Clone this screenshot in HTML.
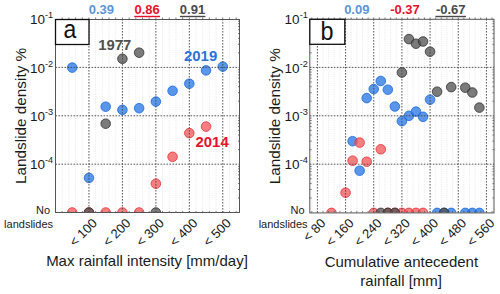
<!DOCTYPE html>
<html><head><meta charset="utf-8"><style>
html,body{margin:0;padding:0;background:#fff;}
body{width:500px;height:294px;overflow:hidden;}
svg{display:block;}
text{font-family:"Liberation Sans",sans-serif;}
</style></head><body>
<svg width="500" height="294" viewBox="0 0 500 294">
<rect width="500" height="294" fill="#fff"/>
<defs><clipPath id="ca"><rect x="55.5" y="19.0" width="184.0" height="193.6"/></clipPath></defs>
<line x1="62.19" y1="19.0" x2="62.19" y2="212.6" stroke="#e2e2e2" stroke-width="0.8" stroke-dasharray="1 1.2"/>
<line x1="68.88" y1="19.0" x2="68.88" y2="212.6" stroke="#e2e2e2" stroke-width="0.8" stroke-dasharray="1 1.2"/>
<line x1="75.57" y1="19.0" x2="75.57" y2="212.6" stroke="#e2e2e2" stroke-width="0.8" stroke-dasharray="1 1.2"/>
<line x1="82.26" y1="19.0" x2="82.26" y2="212.6" stroke="#e2e2e2" stroke-width="0.8" stroke-dasharray="1 1.2"/>
<line x1="95.65" y1="19.0" x2="95.65" y2="212.6" stroke="#e2e2e2" stroke-width="0.8" stroke-dasharray="1 1.2"/>
<line x1="102.34" y1="19.0" x2="102.34" y2="212.6" stroke="#e2e2e2" stroke-width="0.8" stroke-dasharray="1 1.2"/>
<line x1="109.03" y1="19.0" x2="109.03" y2="212.6" stroke="#e2e2e2" stroke-width="0.8" stroke-dasharray="1 1.2"/>
<line x1="115.72" y1="19.0" x2="115.72" y2="212.6" stroke="#e2e2e2" stroke-width="0.8" stroke-dasharray="1 1.2"/>
<line x1="129.10" y1="19.0" x2="129.10" y2="212.6" stroke="#e2e2e2" stroke-width="0.8" stroke-dasharray="1 1.2"/>
<line x1="135.79" y1="19.0" x2="135.79" y2="212.6" stroke="#e2e2e2" stroke-width="0.8" stroke-dasharray="1 1.2"/>
<line x1="142.48" y1="19.0" x2="142.48" y2="212.6" stroke="#e2e2e2" stroke-width="0.8" stroke-dasharray="1 1.2"/>
<line x1="149.17" y1="19.0" x2="149.17" y2="212.6" stroke="#e2e2e2" stroke-width="0.8" stroke-dasharray="1 1.2"/>
<line x1="162.55" y1="19.0" x2="162.55" y2="212.6" stroke="#e2e2e2" stroke-width="0.8" stroke-dasharray="1 1.2"/>
<line x1="169.25" y1="19.0" x2="169.25" y2="212.6" stroke="#e2e2e2" stroke-width="0.8" stroke-dasharray="1 1.2"/>
<line x1="175.94" y1="19.0" x2="175.94" y2="212.6" stroke="#e2e2e2" stroke-width="0.8" stroke-dasharray="1 1.2"/>
<line x1="182.63" y1="19.0" x2="182.63" y2="212.6" stroke="#e2e2e2" stroke-width="0.8" stroke-dasharray="1 1.2"/>
<line x1="196.01" y1="19.0" x2="196.01" y2="212.6" stroke="#e2e2e2" stroke-width="0.8" stroke-dasharray="1 1.2"/>
<line x1="202.70" y1="19.0" x2="202.70" y2="212.6" stroke="#e2e2e2" stroke-width="0.8" stroke-dasharray="1 1.2"/>
<line x1="209.39" y1="19.0" x2="209.39" y2="212.6" stroke="#e2e2e2" stroke-width="0.8" stroke-dasharray="1 1.2"/>
<line x1="216.08" y1="19.0" x2="216.08" y2="212.6" stroke="#e2e2e2" stroke-width="0.8" stroke-dasharray="1 1.2"/>
<line x1="229.46" y1="19.0" x2="229.46" y2="212.6" stroke="#e2e2e2" stroke-width="0.8" stroke-dasharray="1 1.2"/>
<line x1="236.15" y1="19.0" x2="236.15" y2="212.6" stroke="#e2e2e2" stroke-width="0.8" stroke-dasharray="1 1.2"/>
<g clip-path="url(#ca)">
<circle cx="72.23" cy="67.60" r="4.8" fill="#2373e2" fill-opacity="0.75" stroke="#1a6ae0" stroke-opacity="0.8" stroke-width="1"/>
<circle cx="88.95" cy="177.90" r="4.8" fill="#2373e2" fill-opacity="0.75" stroke="#1a6ae0" stroke-opacity="0.8" stroke-width="1"/>
<circle cx="105.68" cy="106.70" r="4.8" fill="#2373e2" fill-opacity="0.75" stroke="#1a6ae0" stroke-opacity="0.8" stroke-width="1"/>
<circle cx="122.41" cy="109.90" r="4.8" fill="#2373e2" fill-opacity="0.75" stroke="#1a6ae0" stroke-opacity="0.8" stroke-width="1"/>
<circle cx="139.14" cy="108.20" r="4.8" fill="#2373e2" fill-opacity="0.75" stroke="#1a6ae0" stroke-opacity="0.8" stroke-width="1"/>
<circle cx="155.86" cy="101.60" r="4.8" fill="#2373e2" fill-opacity="0.75" stroke="#1a6ae0" stroke-opacity="0.8" stroke-width="1"/>
<circle cx="172.59" cy="90.80" r="4.8" fill="#2373e2" fill-opacity="0.75" stroke="#1a6ae0" stroke-opacity="0.8" stroke-width="1"/>
<circle cx="189.32" cy="83.70" r="4.8" fill="#2373e2" fill-opacity="0.75" stroke="#1a6ae0" stroke-opacity="0.8" stroke-width="1"/>
<circle cx="206.05" cy="70.40" r="4.8" fill="#2373e2" fill-opacity="0.75" stroke="#1a6ae0" stroke-opacity="0.8" stroke-width="1"/>
<circle cx="222.77" cy="66.60" r="4.8" fill="#2373e2" fill-opacity="0.75" stroke="#1a6ae0" stroke-opacity="0.8" stroke-width="1"/>
<circle cx="72.23" cy="212.50" r="4.8" fill="#f05456" fill-opacity="0.75" stroke="#e8303a" stroke-opacity="0.8" stroke-width="1"/>
<circle cx="88.95" cy="212.50" r="4.8" fill="#f05456" fill-opacity="0.75" stroke="#e8303a" stroke-opacity="0.8" stroke-width="1"/>
<circle cx="105.68" cy="212.50" r="4.8" fill="#f05456" fill-opacity="0.75" stroke="#e8303a" stroke-opacity="0.8" stroke-width="1"/>
<circle cx="122.41" cy="212.50" r="4.8" fill="#f05456" fill-opacity="0.75" stroke="#e8303a" stroke-opacity="0.8" stroke-width="1"/>
<circle cx="139.14" cy="212.50" r="4.8" fill="#f05456" fill-opacity="0.75" stroke="#e8303a" stroke-opacity="0.8" stroke-width="1"/>
<circle cx="155.86" cy="183.70" r="4.8" fill="#f05456" fill-opacity="0.75" stroke="#e8303a" stroke-opacity="0.8" stroke-width="1"/>
<circle cx="172.59" cy="156.80" r="4.8" fill="#f05456" fill-opacity="0.75" stroke="#e8303a" stroke-opacity="0.8" stroke-width="1"/>
<circle cx="189.32" cy="133.10" r="4.8" fill="#f05456" fill-opacity="0.75" stroke="#e8303a" stroke-opacity="0.8" stroke-width="1"/>
<circle cx="206.05" cy="126.60" r="4.8" fill="#f05456" fill-opacity="0.75" stroke="#e8303a" stroke-opacity="0.8" stroke-width="1"/>
<circle cx="88.95" cy="212.50" r="4.8" fill="#4f4f4f" fill-opacity="0.75" stroke="#333333" stroke-opacity="0.8" stroke-width="1"/>
<circle cx="105.68" cy="123.70" r="4.8" fill="#4f4f4f" fill-opacity="0.75" stroke="#333333" stroke-opacity="0.8" stroke-width="1"/>
<circle cx="122.41" cy="58.80" r="4.8" fill="#4f4f4f" fill-opacity="0.75" stroke="#333333" stroke-opacity="0.8" stroke-width="1"/>
<circle cx="139.14" cy="52.70" r="4.8" fill="#4f4f4f" fill-opacity="0.75" stroke="#333333" stroke-opacity="0.8" stroke-width="1"/>
<circle cx="155.86" cy="212.50" r="4.8" fill="#4f4f4f" fill-opacity="0.75" stroke="#333333" stroke-opacity="0.8" stroke-width="1"/>
</g>
<line x1="88.95" y1="19.0" x2="88.95" y2="212.6" stroke="#444" stroke-width="0.9" stroke-dasharray="1.6 1.4"/>
<line x1="122.41" y1="19.0" x2="122.41" y2="212.6" stroke="#444" stroke-width="0.9" stroke-dasharray="1.6 1.4"/>
<line x1="155.86" y1="19.0" x2="155.86" y2="212.6" stroke="#444" stroke-width="0.9" stroke-dasharray="1.6 1.4"/>
<line x1="189.32" y1="19.0" x2="189.32" y2="212.6" stroke="#444" stroke-width="0.9" stroke-dasharray="1.6 1.4"/>
<line x1="222.77" y1="19.0" x2="222.77" y2="212.6" stroke="#444" stroke-width="0.9" stroke-dasharray="1.6 1.4"/>
<line x1="55.5" y1="67.40" x2="239.5" y2="67.40" stroke="#444" stroke-width="0.9" stroke-dasharray="1.6 1.4"/>
<line x1="55.5" y1="115.80" x2="239.5" y2="115.80" stroke="#444" stroke-width="0.9" stroke-dasharray="1.6 1.4"/>
<line x1="55.5" y1="164.20" x2="239.5" y2="164.20" stroke="#444" stroke-width="0.9" stroke-dasharray="1.6 1.4"/>
<line x1="62.19" y1="17.5" x2="62.19" y2="19.0" stroke="#555" stroke-width="0.8"/>
<line x1="62.19" y1="211.1" x2="62.19" y2="212.6" stroke="#555" stroke-width="0.8"/>
<line x1="68.88" y1="17.5" x2="68.88" y2="19.0" stroke="#555" stroke-width="0.8"/>
<line x1="68.88" y1="211.1" x2="68.88" y2="212.6" stroke="#555" stroke-width="0.8"/>
<line x1="75.57" y1="17.5" x2="75.57" y2="19.0" stroke="#555" stroke-width="0.8"/>
<line x1="75.57" y1="211.1" x2="75.57" y2="212.6" stroke="#555" stroke-width="0.8"/>
<line x1="82.26" y1="17.5" x2="82.26" y2="19.0" stroke="#555" stroke-width="0.8"/>
<line x1="82.26" y1="211.1" x2="82.26" y2="212.6" stroke="#555" stroke-width="0.8"/>
<line x1="88.95" y1="17.5" x2="88.95" y2="19.0" stroke="#555" stroke-width="0.8"/>
<line x1="88.95" y1="211.1" x2="88.95" y2="212.6" stroke="#555" stroke-width="0.8"/>
<line x1="95.65" y1="17.5" x2="95.65" y2="19.0" stroke="#555" stroke-width="0.8"/>
<line x1="95.65" y1="211.1" x2="95.65" y2="212.6" stroke="#555" stroke-width="0.8"/>
<line x1="102.34" y1="17.5" x2="102.34" y2="19.0" stroke="#555" stroke-width="0.8"/>
<line x1="102.34" y1="211.1" x2="102.34" y2="212.6" stroke="#555" stroke-width="0.8"/>
<line x1="109.03" y1="17.5" x2="109.03" y2="19.0" stroke="#555" stroke-width="0.8"/>
<line x1="109.03" y1="211.1" x2="109.03" y2="212.6" stroke="#555" stroke-width="0.8"/>
<line x1="115.72" y1="17.5" x2="115.72" y2="19.0" stroke="#555" stroke-width="0.8"/>
<line x1="115.72" y1="211.1" x2="115.72" y2="212.6" stroke="#555" stroke-width="0.8"/>
<line x1="122.41" y1="17.5" x2="122.41" y2="19.0" stroke="#555" stroke-width="0.8"/>
<line x1="122.41" y1="211.1" x2="122.41" y2="212.6" stroke="#555" stroke-width="0.8"/>
<line x1="129.10" y1="17.5" x2="129.10" y2="19.0" stroke="#555" stroke-width="0.8"/>
<line x1="129.10" y1="211.1" x2="129.10" y2="212.6" stroke="#555" stroke-width="0.8"/>
<line x1="135.79" y1="17.5" x2="135.79" y2="19.0" stroke="#555" stroke-width="0.8"/>
<line x1="135.79" y1="211.1" x2="135.79" y2="212.6" stroke="#555" stroke-width="0.8"/>
<line x1="142.48" y1="17.5" x2="142.48" y2="19.0" stroke="#555" stroke-width="0.8"/>
<line x1="142.48" y1="211.1" x2="142.48" y2="212.6" stroke="#555" stroke-width="0.8"/>
<line x1="149.17" y1="17.5" x2="149.17" y2="19.0" stroke="#555" stroke-width="0.8"/>
<line x1="149.17" y1="211.1" x2="149.17" y2="212.6" stroke="#555" stroke-width="0.8"/>
<line x1="155.86" y1="17.5" x2="155.86" y2="19.0" stroke="#555" stroke-width="0.8"/>
<line x1="155.86" y1="211.1" x2="155.86" y2="212.6" stroke="#555" stroke-width="0.8"/>
<line x1="162.55" y1="17.5" x2="162.55" y2="19.0" stroke="#555" stroke-width="0.8"/>
<line x1="162.55" y1="211.1" x2="162.55" y2="212.6" stroke="#555" stroke-width="0.8"/>
<line x1="169.25" y1="17.5" x2="169.25" y2="19.0" stroke="#555" stroke-width="0.8"/>
<line x1="169.25" y1="211.1" x2="169.25" y2="212.6" stroke="#555" stroke-width="0.8"/>
<line x1="175.94" y1="17.5" x2="175.94" y2="19.0" stroke="#555" stroke-width="0.8"/>
<line x1="175.94" y1="211.1" x2="175.94" y2="212.6" stroke="#555" stroke-width="0.8"/>
<line x1="182.63" y1="17.5" x2="182.63" y2="19.0" stroke="#555" stroke-width="0.8"/>
<line x1="182.63" y1="211.1" x2="182.63" y2="212.6" stroke="#555" stroke-width="0.8"/>
<line x1="189.32" y1="17.5" x2="189.32" y2="19.0" stroke="#555" stroke-width="0.8"/>
<line x1="189.32" y1="211.1" x2="189.32" y2="212.6" stroke="#555" stroke-width="0.8"/>
<line x1="196.01" y1="17.5" x2="196.01" y2="19.0" stroke="#555" stroke-width="0.8"/>
<line x1="196.01" y1="211.1" x2="196.01" y2="212.6" stroke="#555" stroke-width="0.8"/>
<line x1="202.70" y1="17.5" x2="202.70" y2="19.0" stroke="#555" stroke-width="0.8"/>
<line x1="202.70" y1="211.1" x2="202.70" y2="212.6" stroke="#555" stroke-width="0.8"/>
<line x1="209.39" y1="17.5" x2="209.39" y2="19.0" stroke="#555" stroke-width="0.8"/>
<line x1="209.39" y1="211.1" x2="209.39" y2="212.6" stroke="#555" stroke-width="0.8"/>
<line x1="216.08" y1="17.5" x2="216.08" y2="19.0" stroke="#555" stroke-width="0.8"/>
<line x1="216.08" y1="211.1" x2="216.08" y2="212.6" stroke="#555" stroke-width="0.8"/>
<line x1="222.77" y1="17.5" x2="222.77" y2="19.0" stroke="#555" stroke-width="0.8"/>
<line x1="222.77" y1="211.1" x2="222.77" y2="212.6" stroke="#555" stroke-width="0.8"/>
<line x1="229.46" y1="17.5" x2="229.46" y2="19.0" stroke="#555" stroke-width="0.8"/>
<line x1="229.46" y1="211.1" x2="229.46" y2="212.6" stroke="#555" stroke-width="0.8"/>
<line x1="236.15" y1="17.5" x2="236.15" y2="19.0" stroke="#555" stroke-width="0.8"/>
<line x1="236.15" y1="211.1" x2="236.15" y2="212.6" stroke="#555" stroke-width="0.8"/>
<line x1="238.00" y1="52.83" x2="239.5" y2="52.83" stroke="#555" stroke-width="0.8"/>
<line x1="238.00" y1="44.31" x2="239.5" y2="44.31" stroke="#555" stroke-width="0.8"/>
<line x1="238.00" y1="38.26" x2="239.5" y2="38.26" stroke="#555" stroke-width="0.8"/>
<line x1="238.00" y1="33.57" x2="239.5" y2="33.57" stroke="#555" stroke-width="0.8"/>
<line x1="238.00" y1="29.74" x2="239.5" y2="29.74" stroke="#555" stroke-width="0.8"/>
<line x1="238.00" y1="26.50" x2="239.5" y2="26.50" stroke="#555" stroke-width="0.8"/>
<line x1="238.00" y1="23.69" x2="239.5" y2="23.69" stroke="#555" stroke-width="0.8"/>
<line x1="238.00" y1="21.21" x2="239.5" y2="21.21" stroke="#555" stroke-width="0.8"/>
<line x1="238.00" y1="101.23" x2="239.5" y2="101.23" stroke="#555" stroke-width="0.8"/>
<line x1="238.00" y1="92.71" x2="239.5" y2="92.71" stroke="#555" stroke-width="0.8"/>
<line x1="238.00" y1="86.66" x2="239.5" y2="86.66" stroke="#555" stroke-width="0.8"/>
<line x1="238.00" y1="81.97" x2="239.5" y2="81.97" stroke="#555" stroke-width="0.8"/>
<line x1="238.00" y1="78.14" x2="239.5" y2="78.14" stroke="#555" stroke-width="0.8"/>
<line x1="238.00" y1="74.90" x2="239.5" y2="74.90" stroke="#555" stroke-width="0.8"/>
<line x1="238.00" y1="72.09" x2="239.5" y2="72.09" stroke="#555" stroke-width="0.8"/>
<line x1="238.00" y1="69.61" x2="239.5" y2="69.61" stroke="#555" stroke-width="0.8"/>
<line x1="238.00" y1="149.63" x2="239.5" y2="149.63" stroke="#555" stroke-width="0.8"/>
<line x1="238.00" y1="141.11" x2="239.5" y2="141.11" stroke="#555" stroke-width="0.8"/>
<line x1="238.00" y1="135.06" x2="239.5" y2="135.06" stroke="#555" stroke-width="0.8"/>
<line x1="238.00" y1="130.37" x2="239.5" y2="130.37" stroke="#555" stroke-width="0.8"/>
<line x1="238.00" y1="126.54" x2="239.5" y2="126.54" stroke="#555" stroke-width="0.8"/>
<line x1="238.00" y1="123.30" x2="239.5" y2="123.30" stroke="#555" stroke-width="0.8"/>
<line x1="238.00" y1="120.49" x2="239.5" y2="120.49" stroke="#555" stroke-width="0.8"/>
<line x1="238.00" y1="118.01" x2="239.5" y2="118.01" stroke="#555" stroke-width="0.8"/>
<line x1="238.00" y1="198.03" x2="239.5" y2="198.03" stroke="#555" stroke-width="0.8"/>
<line x1="238.00" y1="189.51" x2="239.5" y2="189.51" stroke="#555" stroke-width="0.8"/>
<line x1="238.00" y1="183.46" x2="239.5" y2="183.46" stroke="#555" stroke-width="0.8"/>
<line x1="238.00" y1="178.77" x2="239.5" y2="178.77" stroke="#555" stroke-width="0.8"/>
<line x1="238.00" y1="174.94" x2="239.5" y2="174.94" stroke="#555" stroke-width="0.8"/>
<line x1="238.00" y1="171.70" x2="239.5" y2="171.70" stroke="#555" stroke-width="0.8"/>
<line x1="238.00" y1="168.89" x2="239.5" y2="168.89" stroke="#555" stroke-width="0.8"/>
<line x1="238.00" y1="166.41" x2="239.5" y2="166.41" stroke="#555" stroke-width="0.8"/>
<rect x="55.5" y="19.5" width="184.00" height="193.00" fill="none" stroke="#555" stroke-width="1"/>
<rect x="55.5" y="19.5" width="33.5" height="25.0" fill="#fff" stroke="#111" stroke-width="1.3"/>
<defs><clipPath id="cb"><rect x="309.8" y="19.0" width="184.2" height="193.6"/></clipPath></defs>
<line x1="311.77" y1="19.0" x2="311.77" y2="212.6" stroke="#e2e2e2" stroke-width="0.8" stroke-dasharray="1 1.2"/>
<line x1="323.03" y1="19.0" x2="323.03" y2="212.6" stroke="#e2e2e2" stroke-width="0.8" stroke-dasharray="1 1.2"/>
<line x1="328.67" y1="19.0" x2="328.67" y2="212.6" stroke="#e2e2e2" stroke-width="0.8" stroke-dasharray="1 1.2"/>
<line x1="334.30" y1="19.0" x2="334.30" y2="212.6" stroke="#e2e2e2" stroke-width="0.8" stroke-dasharray="1 1.2"/>
<line x1="339.93" y1="19.0" x2="339.93" y2="212.6" stroke="#e2e2e2" stroke-width="0.8" stroke-dasharray="1 1.2"/>
<line x1="351.20" y1="19.0" x2="351.20" y2="212.6" stroke="#e2e2e2" stroke-width="0.8" stroke-dasharray="1 1.2"/>
<line x1="356.84" y1="19.0" x2="356.84" y2="212.6" stroke="#e2e2e2" stroke-width="0.8" stroke-dasharray="1 1.2"/>
<line x1="362.47" y1="19.0" x2="362.47" y2="212.6" stroke="#e2e2e2" stroke-width="0.8" stroke-dasharray="1 1.2"/>
<line x1="368.10" y1="19.0" x2="368.10" y2="212.6" stroke="#e2e2e2" stroke-width="0.8" stroke-dasharray="1 1.2"/>
<line x1="379.37" y1="19.0" x2="379.37" y2="212.6" stroke="#e2e2e2" stroke-width="0.8" stroke-dasharray="1 1.2"/>
<line x1="385.00" y1="19.0" x2="385.00" y2="212.6" stroke="#e2e2e2" stroke-width="0.8" stroke-dasharray="1 1.2"/>
<line x1="390.64" y1="19.0" x2="390.64" y2="212.6" stroke="#e2e2e2" stroke-width="0.8" stroke-dasharray="1 1.2"/>
<line x1="396.27" y1="19.0" x2="396.27" y2="212.6" stroke="#e2e2e2" stroke-width="0.8" stroke-dasharray="1 1.2"/>
<line x1="407.54" y1="19.0" x2="407.54" y2="212.6" stroke="#e2e2e2" stroke-width="0.8" stroke-dasharray="1 1.2"/>
<line x1="413.17" y1="19.0" x2="413.17" y2="212.6" stroke="#e2e2e2" stroke-width="0.8" stroke-dasharray="1 1.2"/>
<line x1="418.80" y1="19.0" x2="418.80" y2="212.6" stroke="#e2e2e2" stroke-width="0.8" stroke-dasharray="1 1.2"/>
<line x1="424.44" y1="19.0" x2="424.44" y2="212.6" stroke="#e2e2e2" stroke-width="0.8" stroke-dasharray="1 1.2"/>
<line x1="435.71" y1="19.0" x2="435.71" y2="212.6" stroke="#e2e2e2" stroke-width="0.8" stroke-dasharray="1 1.2"/>
<line x1="441.34" y1="19.0" x2="441.34" y2="212.6" stroke="#e2e2e2" stroke-width="0.8" stroke-dasharray="1 1.2"/>
<line x1="446.97" y1="19.0" x2="446.97" y2="212.6" stroke="#e2e2e2" stroke-width="0.8" stroke-dasharray="1 1.2"/>
<line x1="452.61" y1="19.0" x2="452.61" y2="212.6" stroke="#e2e2e2" stroke-width="0.8" stroke-dasharray="1 1.2"/>
<line x1="463.87" y1="19.0" x2="463.87" y2="212.6" stroke="#e2e2e2" stroke-width="0.8" stroke-dasharray="1 1.2"/>
<line x1="469.51" y1="19.0" x2="469.51" y2="212.6" stroke="#e2e2e2" stroke-width="0.8" stroke-dasharray="1 1.2"/>
<line x1="475.14" y1="19.0" x2="475.14" y2="212.6" stroke="#e2e2e2" stroke-width="0.8" stroke-dasharray="1 1.2"/>
<line x1="480.77" y1="19.0" x2="480.77" y2="212.6" stroke="#e2e2e2" stroke-width="0.8" stroke-dasharray="1 1.2"/>
<line x1="492.04" y1="19.0" x2="492.04" y2="212.6" stroke="#e2e2e2" stroke-width="0.8" stroke-dasharray="1 1.2"/>
<g clip-path="url(#cb)">
<circle cx="352.61" cy="141.20" r="4.8" fill="#2373e2" fill-opacity="0.75" stroke="#1a6ae0" stroke-opacity="0.8" stroke-width="1"/>
<circle cx="359.65" cy="170.70" r="4.8" fill="#2373e2" fill-opacity="0.75" stroke="#1a6ae0" stroke-opacity="0.8" stroke-width="1"/>
<circle cx="366.69" cy="98.10" r="4.8" fill="#2373e2" fill-opacity="0.75" stroke="#1a6ae0" stroke-opacity="0.8" stroke-width="1"/>
<circle cx="373.74" cy="89.10" r="4.8" fill="#2373e2" fill-opacity="0.75" stroke="#1a6ae0" stroke-opacity="0.8" stroke-width="1"/>
<circle cx="380.78" cy="81.00" r="4.8" fill="#2373e2" fill-opacity="0.75" stroke="#1a6ae0" stroke-opacity="0.8" stroke-width="1"/>
<circle cx="387.82" cy="89.70" r="4.8" fill="#2373e2" fill-opacity="0.75" stroke="#1a6ae0" stroke-opacity="0.8" stroke-width="1"/>
<circle cx="394.86" cy="106.50" r="4.8" fill="#2373e2" fill-opacity="0.75" stroke="#1a6ae0" stroke-opacity="0.8" stroke-width="1"/>
<circle cx="401.90" cy="121.20" r="4.8" fill="#2373e2" fill-opacity="0.75" stroke="#1a6ae0" stroke-opacity="0.8" stroke-width="1"/>
<circle cx="408.95" cy="115.80" r="4.8" fill="#2373e2" fill-opacity="0.75" stroke="#1a6ae0" stroke-opacity="0.8" stroke-width="1"/>
<circle cx="415.99" cy="111.60" r="4.8" fill="#2373e2" fill-opacity="0.75" stroke="#1a6ae0" stroke-opacity="0.8" stroke-width="1"/>
<circle cx="423.03" cy="116.80" r="4.8" fill="#2373e2" fill-opacity="0.75" stroke="#1a6ae0" stroke-opacity="0.8" stroke-width="1"/>
<circle cx="430.07" cy="99.70" r="4.8" fill="#2373e2" fill-opacity="0.75" stroke="#1a6ae0" stroke-opacity="0.8" stroke-width="1"/>
<circle cx="437.11" cy="212.90" r="4.8" fill="#2373e2" fill-opacity="0.75" stroke="#1a6ae0" stroke-opacity="0.8" stroke-width="1"/>
<circle cx="444.16" cy="212.90" r="4.8" fill="#2373e2" fill-opacity="0.75" stroke="#1a6ae0" stroke-opacity="0.8" stroke-width="1"/>
<circle cx="451.20" cy="212.90" r="4.8" fill="#2373e2" fill-opacity="0.75" stroke="#1a6ae0" stroke-opacity="0.8" stroke-width="1"/>
<circle cx="465.28" cy="212.90" r="4.8" fill="#2373e2" fill-opacity="0.75" stroke="#1a6ae0" stroke-opacity="0.8" stroke-width="1"/>
<circle cx="472.32" cy="212.90" r="4.8" fill="#2373e2" fill-opacity="0.75" stroke="#1a6ae0" stroke-opacity="0.8" stroke-width="1"/>
<circle cx="479.37" cy="212.90" r="4.8" fill="#2373e2" fill-opacity="0.75" stroke="#1a6ae0" stroke-opacity="0.8" stroke-width="1"/>
<circle cx="331.48" cy="212.90" r="4.8" fill="#f05456" fill-opacity="0.75" stroke="#e8303a" stroke-opacity="0.8" stroke-width="1"/>
<circle cx="345.57" cy="192.70" r="4.8" fill="#f05456" fill-opacity="0.75" stroke="#e8303a" stroke-opacity="0.8" stroke-width="1"/>
<circle cx="352.61" cy="160.70" r="4.8" fill="#f05456" fill-opacity="0.75" stroke="#e8303a" stroke-opacity="0.8" stroke-width="1"/>
<circle cx="359.65" cy="142.60" r="4.8" fill="#f05456" fill-opacity="0.75" stroke="#e8303a" stroke-opacity="0.8" stroke-width="1"/>
<circle cx="366.69" cy="161.70" r="4.8" fill="#f05456" fill-opacity="0.75" stroke="#e8303a" stroke-opacity="0.8" stroke-width="1"/>
<circle cx="373.74" cy="212.90" r="4.8" fill="#f05456" fill-opacity="0.75" stroke="#e8303a" stroke-opacity="0.8" stroke-width="1"/>
<circle cx="380.78" cy="149.30" r="4.8" fill="#f05456" fill-opacity="0.75" stroke="#e8303a" stroke-opacity="0.8" stroke-width="1"/>
<circle cx="387.82" cy="212.90" r="4.8" fill="#f05456" fill-opacity="0.75" stroke="#e8303a" stroke-opacity="0.8" stroke-width="1"/>
<circle cx="394.86" cy="212.90" r="4.8" fill="#f05456" fill-opacity="0.75" stroke="#e8303a" stroke-opacity="0.8" stroke-width="1"/>
<circle cx="401.90" cy="212.90" r="4.8" fill="#f05456" fill-opacity="0.75" stroke="#e8303a" stroke-opacity="0.8" stroke-width="1"/>
<circle cx="408.95" cy="212.90" r="4.8" fill="#f05456" fill-opacity="0.75" stroke="#e8303a" stroke-opacity="0.8" stroke-width="1"/>
<circle cx="415.99" cy="212.90" r="4.8" fill="#f05456" fill-opacity="0.75" stroke="#e8303a" stroke-opacity="0.8" stroke-width="1"/>
<circle cx="423.03" cy="212.90" r="4.8" fill="#f05456" fill-opacity="0.75" stroke="#e8303a" stroke-opacity="0.8" stroke-width="1"/>
<circle cx="380.78" cy="212.90" r="4.8" fill="#4f4f4f" fill-opacity="0.75" stroke="#333333" stroke-opacity="0.8" stroke-width="1"/>
<circle cx="387.82" cy="212.90" r="4.8" fill="#4f4f4f" fill-opacity="0.75" stroke="#333333" stroke-opacity="0.8" stroke-width="1"/>
<circle cx="394.86" cy="212.90" r="4.8" fill="#4f4f4f" fill-opacity="0.75" stroke="#333333" stroke-opacity="0.8" stroke-width="1"/>
<circle cx="401.90" cy="72.50" r="4.8" fill="#4f4f4f" fill-opacity="0.75" stroke="#333333" stroke-opacity="0.8" stroke-width="1"/>
<circle cx="408.95" cy="39.10" r="4.8" fill="#4f4f4f" fill-opacity="0.75" stroke="#333333" stroke-opacity="0.8" stroke-width="1"/>
<circle cx="415.99" cy="43.70" r="4.8" fill="#4f4f4f" fill-opacity="0.75" stroke="#333333" stroke-opacity="0.8" stroke-width="1"/>
<circle cx="423.03" cy="41.50" r="4.8" fill="#4f4f4f" fill-opacity="0.75" stroke="#333333" stroke-opacity="0.8" stroke-width="1"/>
<circle cx="430.07" cy="51.70" r="4.8" fill="#4f4f4f" fill-opacity="0.75" stroke="#333333" stroke-opacity="0.8" stroke-width="1"/>
<circle cx="437.11" cy="91.70" r="4.8" fill="#4f4f4f" fill-opacity="0.75" stroke="#333333" stroke-opacity="0.8" stroke-width="1"/>
<circle cx="444.16" cy="212.90" r="4.8" fill="#4f4f4f" fill-opacity="0.75" stroke="#333333" stroke-opacity="0.8" stroke-width="1"/>
<circle cx="451.20" cy="87.10" r="4.8" fill="#4f4f4f" fill-opacity="0.75" stroke="#333333" stroke-opacity="0.8" stroke-width="1"/>
<circle cx="465.28" cy="87.70" r="4.8" fill="#4f4f4f" fill-opacity="0.75" stroke="#333333" stroke-opacity="0.8" stroke-width="1"/>
<circle cx="472.32" cy="92.50" r="4.8" fill="#4f4f4f" fill-opacity="0.75" stroke="#333333" stroke-opacity="0.8" stroke-width="1"/>
<circle cx="479.37" cy="107.60" r="4.8" fill="#4f4f4f" fill-opacity="0.75" stroke="#333333" stroke-opacity="0.8" stroke-width="1"/>
</g>
<line x1="317.40" y1="19.0" x2="317.40" y2="212.6" stroke="#444" stroke-width="0.9" stroke-dasharray="1.6 1.4"/>
<line x1="345.57" y1="19.0" x2="345.57" y2="212.6" stroke="#444" stroke-width="0.9" stroke-dasharray="1.6 1.4"/>
<line x1="373.74" y1="19.0" x2="373.74" y2="212.6" stroke="#444" stroke-width="0.9" stroke-dasharray="1.6 1.4"/>
<line x1="401.90" y1="19.0" x2="401.90" y2="212.6" stroke="#444" stroke-width="0.9" stroke-dasharray="1.6 1.4"/>
<line x1="430.07" y1="19.0" x2="430.07" y2="212.6" stroke="#444" stroke-width="0.9" stroke-dasharray="1.6 1.4"/>
<line x1="458.24" y1="19.0" x2="458.24" y2="212.6" stroke="#444" stroke-width="0.9" stroke-dasharray="1.6 1.4"/>
<line x1="486.41" y1="19.0" x2="486.41" y2="212.6" stroke="#444" stroke-width="0.9" stroke-dasharray="1.6 1.4"/>
<line x1="309.8" y1="67.40" x2="494.0" y2="67.40" stroke="#444" stroke-width="0.9" stroke-dasharray="1.6 1.4"/>
<line x1="309.8" y1="115.80" x2="494.0" y2="115.80" stroke="#444" stroke-width="0.9" stroke-dasharray="1.6 1.4"/>
<line x1="309.8" y1="164.20" x2="494.0" y2="164.20" stroke="#444" stroke-width="0.9" stroke-dasharray="1.6 1.4"/>
<line x1="311.77" y1="17.5" x2="311.77" y2="19.0" stroke="#555" stroke-width="0.8"/>
<line x1="311.77" y1="211.1" x2="311.77" y2="212.6" stroke="#555" stroke-width="0.8"/>
<line x1="317.40" y1="17.5" x2="317.40" y2="19.0" stroke="#555" stroke-width="0.8"/>
<line x1="317.40" y1="211.1" x2="317.40" y2="212.6" stroke="#555" stroke-width="0.8"/>
<line x1="323.03" y1="17.5" x2="323.03" y2="19.0" stroke="#555" stroke-width="0.8"/>
<line x1="323.03" y1="211.1" x2="323.03" y2="212.6" stroke="#555" stroke-width="0.8"/>
<line x1="328.67" y1="17.5" x2="328.67" y2="19.0" stroke="#555" stroke-width="0.8"/>
<line x1="328.67" y1="211.1" x2="328.67" y2="212.6" stroke="#555" stroke-width="0.8"/>
<line x1="334.30" y1="17.5" x2="334.30" y2="19.0" stroke="#555" stroke-width="0.8"/>
<line x1="334.30" y1="211.1" x2="334.30" y2="212.6" stroke="#555" stroke-width="0.8"/>
<line x1="339.93" y1="17.5" x2="339.93" y2="19.0" stroke="#555" stroke-width="0.8"/>
<line x1="339.93" y1="211.1" x2="339.93" y2="212.6" stroke="#555" stroke-width="0.8"/>
<line x1="345.57" y1="17.5" x2="345.57" y2="19.0" stroke="#555" stroke-width="0.8"/>
<line x1="345.57" y1="211.1" x2="345.57" y2="212.6" stroke="#555" stroke-width="0.8"/>
<line x1="351.20" y1="17.5" x2="351.20" y2="19.0" stroke="#555" stroke-width="0.8"/>
<line x1="351.20" y1="211.1" x2="351.20" y2="212.6" stroke="#555" stroke-width="0.8"/>
<line x1="356.84" y1="17.5" x2="356.84" y2="19.0" stroke="#555" stroke-width="0.8"/>
<line x1="356.84" y1="211.1" x2="356.84" y2="212.6" stroke="#555" stroke-width="0.8"/>
<line x1="362.47" y1="17.5" x2="362.47" y2="19.0" stroke="#555" stroke-width="0.8"/>
<line x1="362.47" y1="211.1" x2="362.47" y2="212.6" stroke="#555" stroke-width="0.8"/>
<line x1="368.10" y1="17.5" x2="368.10" y2="19.0" stroke="#555" stroke-width="0.8"/>
<line x1="368.10" y1="211.1" x2="368.10" y2="212.6" stroke="#555" stroke-width="0.8"/>
<line x1="373.74" y1="17.5" x2="373.74" y2="19.0" stroke="#555" stroke-width="0.8"/>
<line x1="373.74" y1="211.1" x2="373.74" y2="212.6" stroke="#555" stroke-width="0.8"/>
<line x1="379.37" y1="17.5" x2="379.37" y2="19.0" stroke="#555" stroke-width="0.8"/>
<line x1="379.37" y1="211.1" x2="379.37" y2="212.6" stroke="#555" stroke-width="0.8"/>
<line x1="385.00" y1="17.5" x2="385.00" y2="19.0" stroke="#555" stroke-width="0.8"/>
<line x1="385.00" y1="211.1" x2="385.00" y2="212.6" stroke="#555" stroke-width="0.8"/>
<line x1="390.64" y1="17.5" x2="390.64" y2="19.0" stroke="#555" stroke-width="0.8"/>
<line x1="390.64" y1="211.1" x2="390.64" y2="212.6" stroke="#555" stroke-width="0.8"/>
<line x1="396.27" y1="17.5" x2="396.27" y2="19.0" stroke="#555" stroke-width="0.8"/>
<line x1="396.27" y1="211.1" x2="396.27" y2="212.6" stroke="#555" stroke-width="0.8"/>
<line x1="401.90" y1="17.5" x2="401.90" y2="19.0" stroke="#555" stroke-width="0.8"/>
<line x1="401.90" y1="211.1" x2="401.90" y2="212.6" stroke="#555" stroke-width="0.8"/>
<line x1="407.54" y1="17.5" x2="407.54" y2="19.0" stroke="#555" stroke-width="0.8"/>
<line x1="407.54" y1="211.1" x2="407.54" y2="212.6" stroke="#555" stroke-width="0.8"/>
<line x1="413.17" y1="17.5" x2="413.17" y2="19.0" stroke="#555" stroke-width="0.8"/>
<line x1="413.17" y1="211.1" x2="413.17" y2="212.6" stroke="#555" stroke-width="0.8"/>
<line x1="418.80" y1="17.5" x2="418.80" y2="19.0" stroke="#555" stroke-width="0.8"/>
<line x1="418.80" y1="211.1" x2="418.80" y2="212.6" stroke="#555" stroke-width="0.8"/>
<line x1="424.44" y1="17.5" x2="424.44" y2="19.0" stroke="#555" stroke-width="0.8"/>
<line x1="424.44" y1="211.1" x2="424.44" y2="212.6" stroke="#555" stroke-width="0.8"/>
<line x1="430.07" y1="17.5" x2="430.07" y2="19.0" stroke="#555" stroke-width="0.8"/>
<line x1="430.07" y1="211.1" x2="430.07" y2="212.6" stroke="#555" stroke-width="0.8"/>
<line x1="435.71" y1="17.5" x2="435.71" y2="19.0" stroke="#555" stroke-width="0.8"/>
<line x1="435.71" y1="211.1" x2="435.71" y2="212.6" stroke="#555" stroke-width="0.8"/>
<line x1="441.34" y1="17.5" x2="441.34" y2="19.0" stroke="#555" stroke-width="0.8"/>
<line x1="441.34" y1="211.1" x2="441.34" y2="212.6" stroke="#555" stroke-width="0.8"/>
<line x1="446.97" y1="17.5" x2="446.97" y2="19.0" stroke="#555" stroke-width="0.8"/>
<line x1="446.97" y1="211.1" x2="446.97" y2="212.6" stroke="#555" stroke-width="0.8"/>
<line x1="452.61" y1="17.5" x2="452.61" y2="19.0" stroke="#555" stroke-width="0.8"/>
<line x1="452.61" y1="211.1" x2="452.61" y2="212.6" stroke="#555" stroke-width="0.8"/>
<line x1="458.24" y1="17.5" x2="458.24" y2="19.0" stroke="#555" stroke-width="0.8"/>
<line x1="458.24" y1="211.1" x2="458.24" y2="212.6" stroke="#555" stroke-width="0.8"/>
<line x1="463.87" y1="17.5" x2="463.87" y2="19.0" stroke="#555" stroke-width="0.8"/>
<line x1="463.87" y1="211.1" x2="463.87" y2="212.6" stroke="#555" stroke-width="0.8"/>
<line x1="469.51" y1="17.5" x2="469.51" y2="19.0" stroke="#555" stroke-width="0.8"/>
<line x1="469.51" y1="211.1" x2="469.51" y2="212.6" stroke="#555" stroke-width="0.8"/>
<line x1="475.14" y1="17.5" x2="475.14" y2="19.0" stroke="#555" stroke-width="0.8"/>
<line x1="475.14" y1="211.1" x2="475.14" y2="212.6" stroke="#555" stroke-width="0.8"/>
<line x1="480.77" y1="17.5" x2="480.77" y2="19.0" stroke="#555" stroke-width="0.8"/>
<line x1="480.77" y1="211.1" x2="480.77" y2="212.6" stroke="#555" stroke-width="0.8"/>
<line x1="486.41" y1="17.5" x2="486.41" y2="19.0" stroke="#555" stroke-width="0.8"/>
<line x1="486.41" y1="211.1" x2="486.41" y2="212.6" stroke="#555" stroke-width="0.8"/>
<line x1="492.04" y1="17.5" x2="492.04" y2="19.0" stroke="#555" stroke-width="0.8"/>
<line x1="492.04" y1="211.1" x2="492.04" y2="212.6" stroke="#555" stroke-width="0.8"/>
<line x1="492.50" y1="52.83" x2="494.0" y2="52.83" stroke="#555" stroke-width="0.8"/>
<line x1="309.80" y1="52.83" x2="311.60" y2="52.83" stroke="#555" stroke-width="0.8"/>
<line x1="492.50" y1="44.31" x2="494.0" y2="44.31" stroke="#555" stroke-width="0.8"/>
<line x1="309.80" y1="44.31" x2="311.60" y2="44.31" stroke="#555" stroke-width="0.8"/>
<line x1="492.50" y1="38.26" x2="494.0" y2="38.26" stroke="#555" stroke-width="0.8"/>
<line x1="309.80" y1="38.26" x2="311.60" y2="38.26" stroke="#555" stroke-width="0.8"/>
<line x1="492.50" y1="33.57" x2="494.0" y2="33.57" stroke="#555" stroke-width="0.8"/>
<line x1="309.80" y1="33.57" x2="311.60" y2="33.57" stroke="#555" stroke-width="0.8"/>
<line x1="492.50" y1="29.74" x2="494.0" y2="29.74" stroke="#555" stroke-width="0.8"/>
<line x1="309.80" y1="29.74" x2="311.60" y2="29.74" stroke="#555" stroke-width="0.8"/>
<line x1="492.50" y1="26.50" x2="494.0" y2="26.50" stroke="#555" stroke-width="0.8"/>
<line x1="309.80" y1="26.50" x2="311.60" y2="26.50" stroke="#555" stroke-width="0.8"/>
<line x1="492.50" y1="23.69" x2="494.0" y2="23.69" stroke="#555" stroke-width="0.8"/>
<line x1="309.80" y1="23.69" x2="311.60" y2="23.69" stroke="#555" stroke-width="0.8"/>
<line x1="492.50" y1="21.21" x2="494.0" y2="21.21" stroke="#555" stroke-width="0.8"/>
<line x1="309.80" y1="21.21" x2="311.60" y2="21.21" stroke="#555" stroke-width="0.8"/>
<line x1="492.50" y1="101.23" x2="494.0" y2="101.23" stroke="#555" stroke-width="0.8"/>
<line x1="309.80" y1="101.23" x2="311.60" y2="101.23" stroke="#555" stroke-width="0.8"/>
<line x1="492.50" y1="92.71" x2="494.0" y2="92.71" stroke="#555" stroke-width="0.8"/>
<line x1="309.80" y1="92.71" x2="311.60" y2="92.71" stroke="#555" stroke-width="0.8"/>
<line x1="492.50" y1="86.66" x2="494.0" y2="86.66" stroke="#555" stroke-width="0.8"/>
<line x1="309.80" y1="86.66" x2="311.60" y2="86.66" stroke="#555" stroke-width="0.8"/>
<line x1="492.50" y1="81.97" x2="494.0" y2="81.97" stroke="#555" stroke-width="0.8"/>
<line x1="309.80" y1="81.97" x2="311.60" y2="81.97" stroke="#555" stroke-width="0.8"/>
<line x1="492.50" y1="78.14" x2="494.0" y2="78.14" stroke="#555" stroke-width="0.8"/>
<line x1="309.80" y1="78.14" x2="311.60" y2="78.14" stroke="#555" stroke-width="0.8"/>
<line x1="492.50" y1="74.90" x2="494.0" y2="74.90" stroke="#555" stroke-width="0.8"/>
<line x1="309.80" y1="74.90" x2="311.60" y2="74.90" stroke="#555" stroke-width="0.8"/>
<line x1="492.50" y1="72.09" x2="494.0" y2="72.09" stroke="#555" stroke-width="0.8"/>
<line x1="309.80" y1="72.09" x2="311.60" y2="72.09" stroke="#555" stroke-width="0.8"/>
<line x1="492.50" y1="69.61" x2="494.0" y2="69.61" stroke="#555" stroke-width="0.8"/>
<line x1="309.80" y1="69.61" x2="311.60" y2="69.61" stroke="#555" stroke-width="0.8"/>
<line x1="492.50" y1="149.63" x2="494.0" y2="149.63" stroke="#555" stroke-width="0.8"/>
<line x1="309.80" y1="149.63" x2="311.60" y2="149.63" stroke="#555" stroke-width="0.8"/>
<line x1="492.50" y1="141.11" x2="494.0" y2="141.11" stroke="#555" stroke-width="0.8"/>
<line x1="309.80" y1="141.11" x2="311.60" y2="141.11" stroke="#555" stroke-width="0.8"/>
<line x1="492.50" y1="135.06" x2="494.0" y2="135.06" stroke="#555" stroke-width="0.8"/>
<line x1="309.80" y1="135.06" x2="311.60" y2="135.06" stroke="#555" stroke-width="0.8"/>
<line x1="492.50" y1="130.37" x2="494.0" y2="130.37" stroke="#555" stroke-width="0.8"/>
<line x1="309.80" y1="130.37" x2="311.60" y2="130.37" stroke="#555" stroke-width="0.8"/>
<line x1="492.50" y1="126.54" x2="494.0" y2="126.54" stroke="#555" stroke-width="0.8"/>
<line x1="309.80" y1="126.54" x2="311.60" y2="126.54" stroke="#555" stroke-width="0.8"/>
<line x1="492.50" y1="123.30" x2="494.0" y2="123.30" stroke="#555" stroke-width="0.8"/>
<line x1="309.80" y1="123.30" x2="311.60" y2="123.30" stroke="#555" stroke-width="0.8"/>
<line x1="492.50" y1="120.49" x2="494.0" y2="120.49" stroke="#555" stroke-width="0.8"/>
<line x1="309.80" y1="120.49" x2="311.60" y2="120.49" stroke="#555" stroke-width="0.8"/>
<line x1="492.50" y1="118.01" x2="494.0" y2="118.01" stroke="#555" stroke-width="0.8"/>
<line x1="309.80" y1="118.01" x2="311.60" y2="118.01" stroke="#555" stroke-width="0.8"/>
<line x1="492.50" y1="198.03" x2="494.0" y2="198.03" stroke="#555" stroke-width="0.8"/>
<line x1="309.80" y1="198.03" x2="311.60" y2="198.03" stroke="#555" stroke-width="0.8"/>
<line x1="492.50" y1="189.51" x2="494.0" y2="189.51" stroke="#555" stroke-width="0.8"/>
<line x1="309.80" y1="189.51" x2="311.60" y2="189.51" stroke="#555" stroke-width="0.8"/>
<line x1="492.50" y1="183.46" x2="494.0" y2="183.46" stroke="#555" stroke-width="0.8"/>
<line x1="309.80" y1="183.46" x2="311.60" y2="183.46" stroke="#555" stroke-width="0.8"/>
<line x1="492.50" y1="178.77" x2="494.0" y2="178.77" stroke="#555" stroke-width="0.8"/>
<line x1="309.80" y1="178.77" x2="311.60" y2="178.77" stroke="#555" stroke-width="0.8"/>
<line x1="492.50" y1="174.94" x2="494.0" y2="174.94" stroke="#555" stroke-width="0.8"/>
<line x1="309.80" y1="174.94" x2="311.60" y2="174.94" stroke="#555" stroke-width="0.8"/>
<line x1="492.50" y1="171.70" x2="494.0" y2="171.70" stroke="#555" stroke-width="0.8"/>
<line x1="309.80" y1="171.70" x2="311.60" y2="171.70" stroke="#555" stroke-width="0.8"/>
<line x1="492.50" y1="168.89" x2="494.0" y2="168.89" stroke="#555" stroke-width="0.8"/>
<line x1="309.80" y1="168.89" x2="311.60" y2="168.89" stroke="#555" stroke-width="0.8"/>
<line x1="492.50" y1="166.41" x2="494.0" y2="166.41" stroke="#555" stroke-width="0.8"/>
<line x1="309.80" y1="166.41" x2="311.60" y2="166.41" stroke="#555" stroke-width="0.8"/>
<rect x="309.8" y="19.3" width="184.20" height="193.60" fill="none" stroke="#555" stroke-width="1"/>
<rect x="309.8" y="19.3" width="35.0" height="25.0" fill="#fff" stroke="#111" stroke-width="1.3"/>
<text x="53.2" y="24.20" font-size="13.5" text-anchor="end" fill="#1a1a1a" font-family="Liberation Sans, sans-serif">10<tspan font-size="9.2" dy="-6">-1</tspan></text>
<text x="53.2" y="72.60" font-size="13.5" text-anchor="end" fill="#1a1a1a" font-family="Liberation Sans, sans-serif">10<tspan font-size="9.2" dy="-6">-2</tspan></text>
<text x="53.2" y="121.00" font-size="13.5" text-anchor="end" fill="#1a1a1a" font-family="Liberation Sans, sans-serif">10<tspan font-size="9.2" dy="-6">-3</tspan></text>
<text x="53.2" y="169.40" font-size="13.5" text-anchor="end" fill="#1a1a1a" font-family="Liberation Sans, sans-serif">10<tspan font-size="9.2" dy="-6">-4</tspan></text>
<text x="50" y="213.9" font-size="11" text-anchor="end" font-weight="normal" fill="#1a1a1a" font-family="Liberation Sans, sans-serif" >No</text>
<text x="53" y="227.5" font-size="11" text-anchor="end" font-weight="normal" fill="#1a1a1a" font-family="Liberation Sans, sans-serif" >landslides</text>
<text transform="translate(25.8,115.9) rotate(-90)" font-size="15.3" text-anchor="middle" fill="#1a1a1a" font-family="Liberation Sans, sans-serif">Landslide density %</text>
<text x="307.8" y="24.20" font-size="13.5" text-anchor="end" fill="#1a1a1a" font-family="Liberation Sans, sans-serif">10<tspan font-size="9.2" dy="-6">-1</tspan></text>
<text x="307.8" y="72.60" font-size="13.5" text-anchor="end" fill="#1a1a1a" font-family="Liberation Sans, sans-serif">10<tspan font-size="9.2" dy="-6">-2</tspan></text>
<text x="307.8" y="121.00" font-size="13.5" text-anchor="end" fill="#1a1a1a" font-family="Liberation Sans, sans-serif">10<tspan font-size="9.2" dy="-6">-3</tspan></text>
<text x="307.8" y="169.40" font-size="13.5" text-anchor="end" fill="#1a1a1a" font-family="Liberation Sans, sans-serif">10<tspan font-size="9.2" dy="-6">-4</tspan></text>
<text x="304.6" y="213.9" font-size="11" text-anchor="end" font-weight="normal" fill="#1a1a1a" font-family="Liberation Sans, sans-serif" >No</text>
<text x="307.6" y="227.5" font-size="11" text-anchor="end" font-weight="normal" fill="#1a1a1a" font-family="Liberation Sans, sans-serif" >landslides</text>
<text transform="translate(280.4,116.30000000000001) rotate(-90)" font-size="15.3" text-anchor="middle" fill="#1a1a1a" font-family="Liberation Sans, sans-serif">Landslide density %</text>
<text transform="translate(70.0,38.0) scale(0.92,1)" font-size="25" text-anchor="middle" fill="#111" font-family="Liberation Sans, sans-serif">a</text>
<text transform="translate(326.9,39.6) scale(0.9,1)" font-size="26" text-anchor="middle" fill="#111" font-family="Liberation Sans, sans-serif">b</text>
<text x="101.4" y="14" font-size="13" text-anchor="middle" font-weight="bold" fill="#5b95d8" font-family="Liberation Sans, sans-serif" >0.39</text>
<text x="147.2" y="14" font-size="13" text-anchor="middle" font-weight="bold" fill="#e8112d" font-family="Liberation Sans, sans-serif" >0.86</text>
<text x="192.5" y="14" font-size="13" text-anchor="middle" font-weight="bold" fill="#4a4a4a" font-family="Liberation Sans, sans-serif" >0.91</text>
<rect x="134.3" y="15.8" width="25.7" height="1.4" fill="#e8112d"/>
<rect x="179.9" y="15.8" width="25.5" height="1.4" fill="#4a4a4a"/>
<text x="356.8" y="14" font-size="13" text-anchor="middle" font-weight="bold" fill="#5b95d8" font-family="Liberation Sans, sans-serif" >0.09</text>
<text x="405" y="14" font-size="13" text-anchor="middle" font-weight="bold" fill="#e8112d" font-family="Liberation Sans, sans-serif" >-0.37</text>
<text x="450.7" y="14" font-size="13" text-anchor="middle" font-weight="bold" fill="#4a4a4a" font-family="Liberation Sans, sans-serif" >-0.67</text>
<rect x="435.4" y="15.8" width="30.6" height="1.4" fill="#4a4a4a"/>
<text transform="translate(114.8,49.9) scale(0.98,1)" x="0" y="0" font-size="15.2" text-anchor="middle" font-weight="bold" fill="#505050" font-family="Liberation Sans, sans-serif">1977</text>
<text transform="translate(200.6,61.2) scale(0.98,1)" x="0" y="0" font-size="15.2" text-anchor="middle" font-weight="bold" fill="#2a72dc" font-family="Liberation Sans, sans-serif">2019</text>
<text transform="translate(212.1,147.1) scale(0.98,1)" x="0" y="0" font-size="15.2" text-anchor="middle" font-weight="bold" fill="#e8112d" font-family="Liberation Sans, sans-serif">2014</text>
<text transform="translate(97.95,224.0) rotate(-45)" font-size="13" text-anchor="end" fill="#1a1a1a" font-family="Liberation Sans, sans-serif">&lt; 100</text>
<text transform="translate(131.41,224.0) rotate(-45)" font-size="13" text-anchor="end" fill="#1a1a1a" font-family="Liberation Sans, sans-serif">&lt; 200</text>
<text transform="translate(164.86,224.0) rotate(-45)" font-size="13" text-anchor="end" fill="#1a1a1a" font-family="Liberation Sans, sans-serif">&lt; 300</text>
<text transform="translate(198.32,224.0) rotate(-45)" font-size="13" text-anchor="end" fill="#1a1a1a" font-family="Liberation Sans, sans-serif">&lt; 400</text>
<text transform="translate(231.77,224.0) rotate(-45)" font-size="13" text-anchor="end" fill="#1a1a1a" font-family="Liberation Sans, sans-serif">&lt; 500</text>
<text transform="translate(326.40,224.0) rotate(-45)" font-size="13" text-anchor="end" fill="#1a1a1a" font-family="Liberation Sans, sans-serif">&lt; 80</text>
<text transform="translate(354.57,224.0) rotate(-45)" font-size="13" text-anchor="end" fill="#1a1a1a" font-family="Liberation Sans, sans-serif">&lt; 160</text>
<text transform="translate(382.74,224.0) rotate(-45)" font-size="13" text-anchor="end" fill="#1a1a1a" font-family="Liberation Sans, sans-serif">&lt; 240</text>
<text transform="translate(410.90,224.0) rotate(-45)" font-size="13" text-anchor="end" fill="#1a1a1a" font-family="Liberation Sans, sans-serif">&lt; 320</text>
<text transform="translate(439.07,224.0) rotate(-45)" font-size="13" text-anchor="end" fill="#1a1a1a" font-family="Liberation Sans, sans-serif">&lt; 400</text>
<text transform="translate(467.24,224.0) rotate(-45)" font-size="13" text-anchor="end" fill="#1a1a1a" font-family="Liberation Sans, sans-serif">&lt; 480</text>
<text transform="translate(495.41,224.0) rotate(-45)" font-size="13" text-anchor="end" fill="#1a1a1a" font-family="Liberation Sans, sans-serif">&lt; 560</text>
<text x="147" y="265.7" font-size="15" text-anchor="middle" font-weight="normal" fill="#1a1a1a" font-family="Liberation Sans, sans-serif" >Max rainfall intensity [mm/day]</text>
<text x="401.4" y="266.7" font-size="15" text-anchor="middle" font-weight="normal" fill="#1a1a1a" font-family="Liberation Sans, sans-serif" >Cumulative antecedent</text>
<text x="401.2" y="285.8" font-size="15" text-anchor="middle" font-weight="normal" fill="#1a1a1a" font-family="Liberation Sans, sans-serif" >rainfall [mm]</text>
</svg>
</body></html>
